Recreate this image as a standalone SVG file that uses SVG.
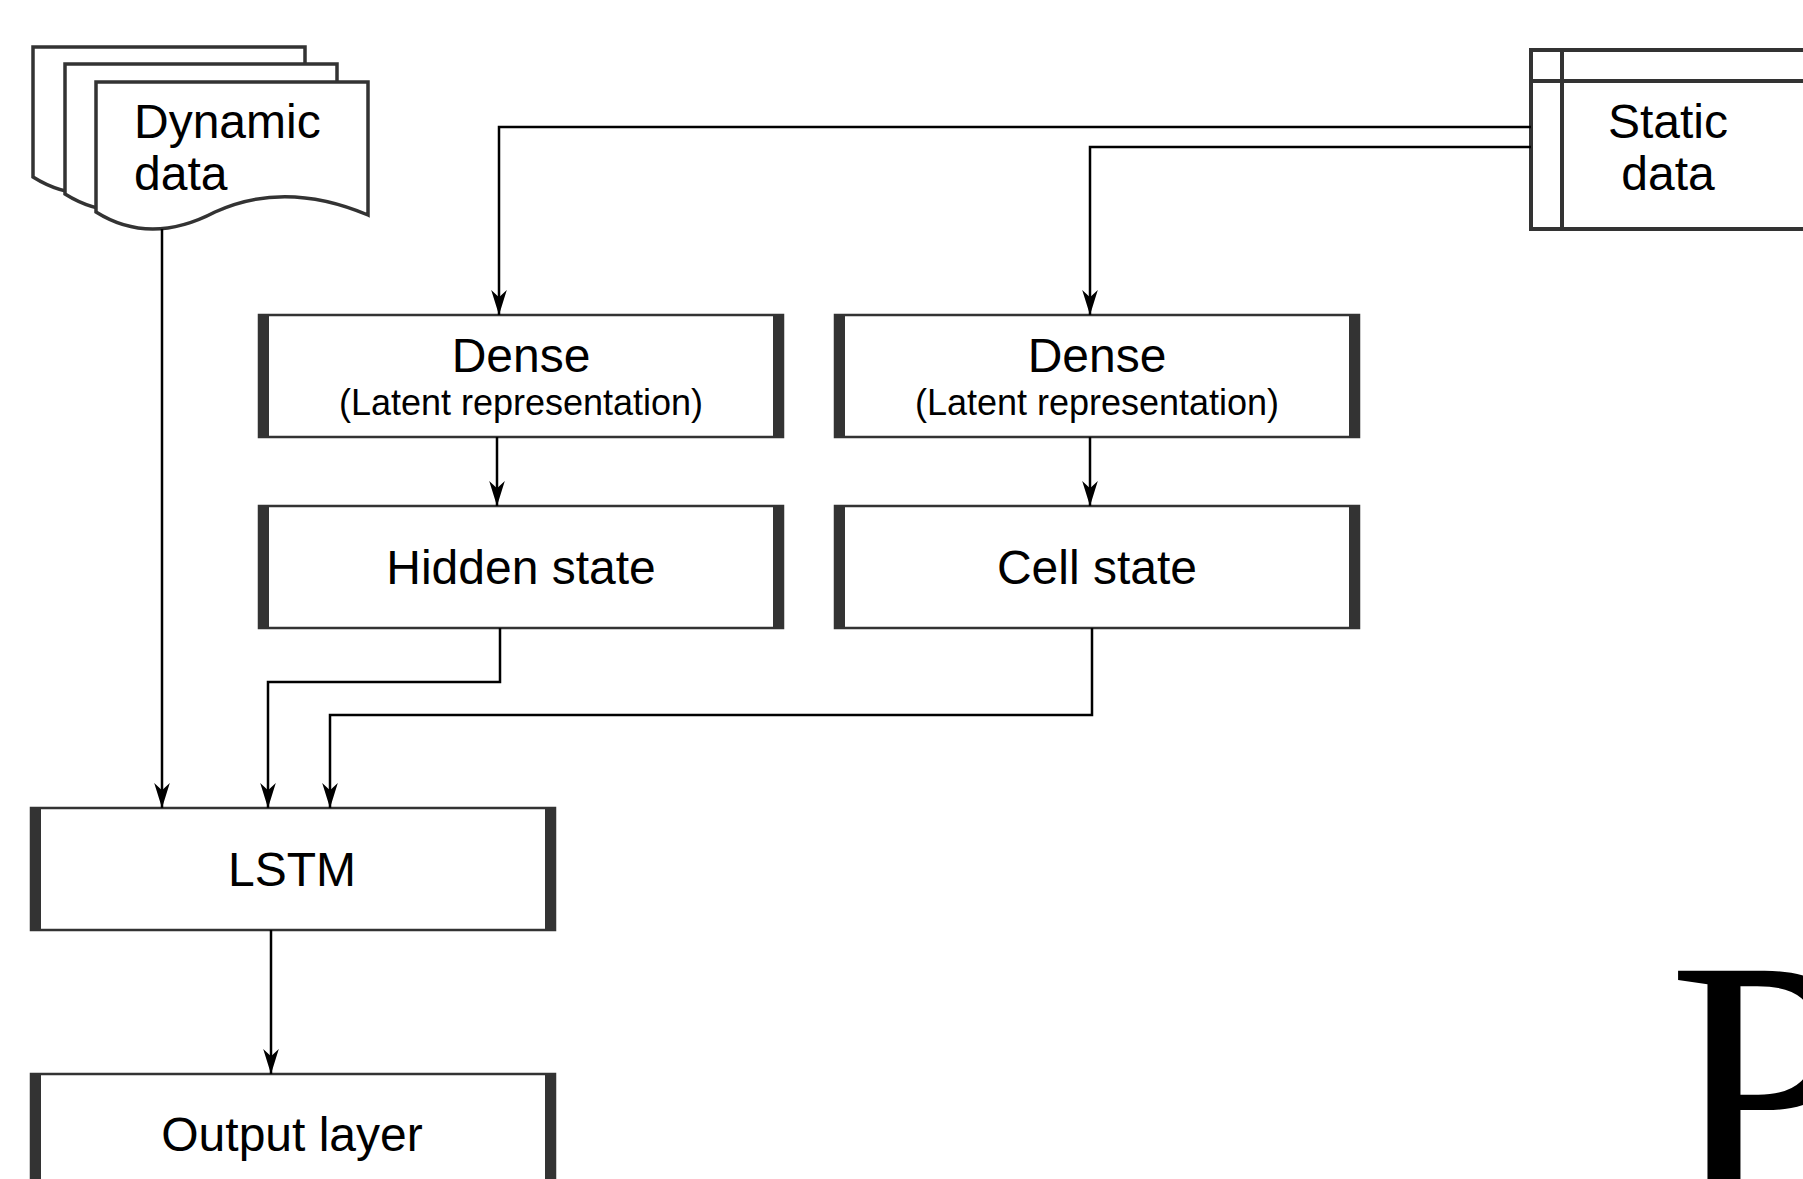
<svg xmlns="http://www.w3.org/2000/svg" width="1803" height="1179" viewBox="0 0 1803 1179">
<defs>
<marker id="arr" markerUnits="userSpaceOnUse" markerWidth="26" markerHeight="18" viewBox="0 -8 25 16" refX="24" refY="0" orient="auto">
<path d="M0,-7.5 L24,0 L0,7.5 L7,0 Z" fill="#000"/>
</marker>
</defs>
<style>
.box{fill:#fff;stroke:#333;stroke-width:2.5}
.bar{fill:#333}
.t{font-family:"Liberation Sans",Arial,sans-serif;fill:#000}
.big{font-size:48px}
.small{font-size:36px}
.doc{fill:#fff;stroke:#333;stroke-width:3.5}
.conn{fill:none;stroke:#000;stroke-width:2.5;marker-end:url(#arr)}
</style>
<rect width="1803" height="1179" fill="#fff"/>

<g id="dynamic-data">
<path class="doc" transform="translate(-63,-35)" d="M96,82 H368 V215 Q285,180 215,212 Q150,246 96,212 Z"/>
<path class="doc" transform="translate(-31,-18)" d="M96,82 H368 V215 Q285,180 215,212 Q150,246 96,212 Z"/>
<path class="doc" d="M96,82 H368 V215 Q285,180 215,212 Q150,246 96,212 Z"/>
<text class="t big" x="134" y="138">Dynamic</text>
<text class="t big" x="134" y="190">data</text>
</g>

<g id="static-data">
<rect x="1531" y="50" width="300" height="179" fill="#fff" stroke="#333" stroke-width="4"/>
<line x1="1562" y1="50" x2="1562" y2="229" stroke="#333" stroke-width="4"/>
<line x1="1531" y1="81" x2="1810" y2="81" stroke="#333" stroke-width="4"/>
<text class="t big" x="1668" y="138" text-anchor="middle">Static</text>
<text class="t big" x="1668" y="190" text-anchor="middle">data</text>
</g>

<g id="dense-left">
<rect class="box" x="259" y="315" width="524" height="122"/>
<rect class="bar" x="259" y="315" width="10" height="122"/>
<rect class="bar" x="773" y="315" width="10" height="122"/>
<text class="t big" x="521" y="372" text-anchor="middle">Dense</text>
<text class="t small" x="521" y="415" text-anchor="middle">(Latent representation)</text>
</g>

<g id="dense-right">
<rect class="box" x="835" y="315" width="524" height="122"/>
<rect class="bar" x="835" y="315" width="10" height="122"/>
<rect class="bar" x="1349" y="315" width="10" height="122"/>
<text class="t big" x="1097" y="372" text-anchor="middle">Dense</text>
<text class="t small" x="1097" y="415" text-anchor="middle">(Latent representation)</text>
</g>

<g id="hidden-state">
<rect class="box" x="259" y="506" width="524" height="122"/>
<rect class="bar" x="259" y="506" width="10" height="122"/>
<rect class="bar" x="773" y="506" width="10" height="122"/>
<text class="t big" x="521" y="584" text-anchor="middle">Hidden state</text>
</g>

<g id="cell-state">
<rect class="box" x="835" y="506" width="524" height="122"/>
<rect class="bar" x="835" y="506" width="10" height="122"/>
<rect class="bar" x="1349" y="506" width="10" height="122"/>
<text class="t big" x="1097" y="584" text-anchor="middle">Cell state</text>
</g>

<g id="lstm">
<rect class="box" x="31" y="808" width="524" height="122"/>
<rect class="bar" x="31" y="808" width="10" height="122"/>
<rect class="bar" x="545" y="808" width="10" height="122"/>
<text class="t big" x="292" y="886" text-anchor="middle">LSTM</text>
</g>

<g id="output-layer">
<rect class="box" x="31" y="1074" width="524" height="140"/>
<rect class="bar" x="31" y="1074" width="10" height="140"/>
<rect class="bar" x="545" y="1074" width="10" height="140"/>
<text class="t big" x="292" y="1151" text-anchor="middle">Output layer</text>
</g>

<g id="connectors">
<path class="conn" d="M1531,127 H499 V315"/>
<path class="conn" d="M1531,147 H1090 V315"/>
<path class="conn" d="M497,437 V506"/>
<path class="conn" d="M1090,437 V506"/>
<path class="conn" d="M162,229 V808"/>
<path class="conn" d="M500,628 V682 H268 V808"/>
<path class="conn" d="M1092,628 V715 H330 V808"/>
<path class="conn" d="M271,930 V1074"/>
</g>

<text x="1668" y="1200" font-family="'Liberation Serif','Times New Roman',serif" font-size="350" fill="#000">P</text>
</svg>
